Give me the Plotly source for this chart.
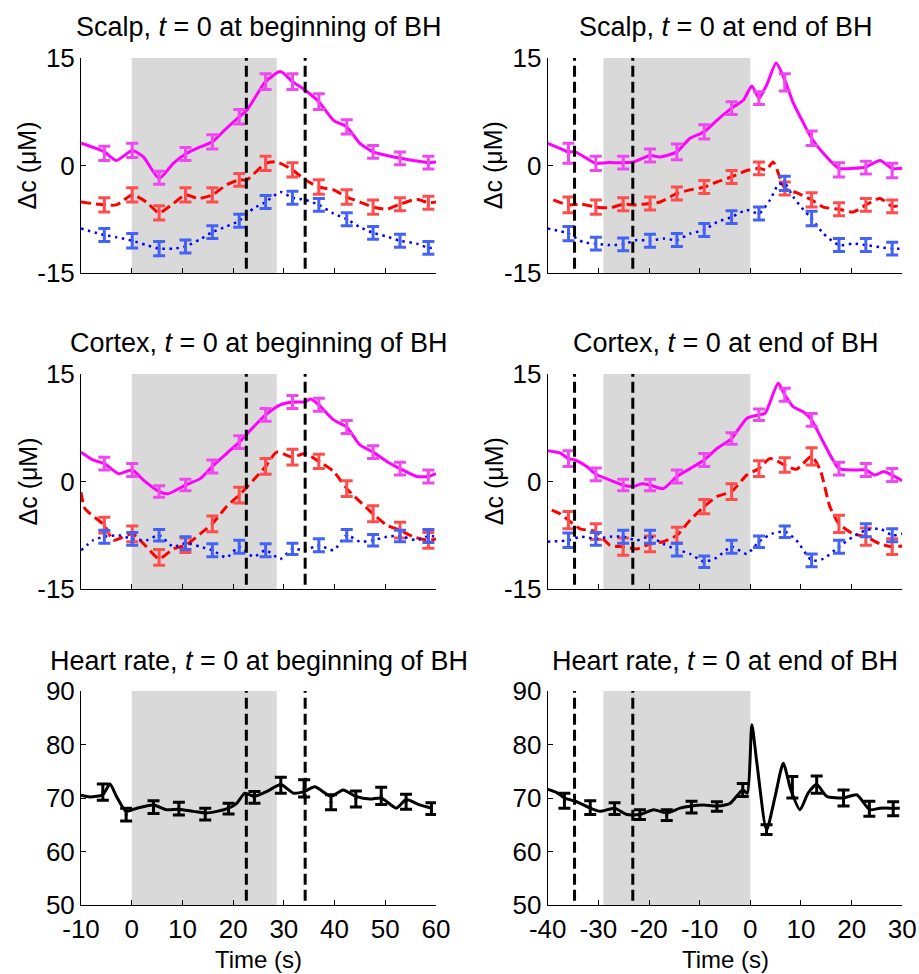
import plotly.graph_objects as go

# ---------------- data ----------------
# time axes / tick labels
x_ticks_begin = [-10, 0, 10, 20, 30, 40, 50, 60]
x_ticks_end = [-40, -30, -20, -10, 0, 10, 20, 30]
y_ticks_dc = [-15, 0, 15]
y_ticks_hr = [50, 60, 70, 80, 90]

# breath-hold shading and dashed markers
bh_begin = [0, 28.6]
bh_end = [-29.0, 0]
dash_begin = [22.6, 34.2]
dash_end = [-34.7, -23.2]

# error-bar sample times
eb_t_begin = [-5.4, 0.1, 5.4, 10.6, 15.9, 21.2, 26.4, 31.7, 36.9, 42.4, 47.6, 52.9, 58.5]
eb_t_end = [-35.9, -30.5, -25.1, -19.8, -14.5, -9.1, -3.7, 1.7, 6.8, 12.1, 17.5, 22.8, 28.0]

# ---- Scalp, t=0 at beginning ----
sb_mag_t = [-10, -5.4, -3.0, 0.1, 2.3, 5.4, 8.2, 10.6, 13.5, 15.9, 18.7, 21.2, 22.7, 24.6, 26.4, 29.3, 31.7, 34.2, 36.9, 39.8, 42.4, 45.0, 47.6, 50.3, 52.9, 55.5, 58.5, 60]
sb_mag_v = [3.1, 1.9, 0.7, 2.1, 1.2, -1.8, 0.3, 1.6, 2.6, 3.3, 5.2, 6.8, 7.7, 9.8, 11.7, 13.1, 11.7, 10.5, 8.9, 6.3, 5.4, 3.1, 1.9, 1.4, 1.0, 0.7, 0.4, 0.5]
sb_red_t = [-10, -5.4, -3.0, 0.1, 2.9, 5.4, 8.2, 10.6, 13.1, 15.9, 18.7, 21.2, 22.7, 26.4, 28.6, 31.7, 34.2, 36.9, 39.8, 42.4, 45.0, 47.6, 50.3, 52.9, 56.2, 58.5, 60]
sb_red_v = [-5.1, -5.5, -5.5, -4.1, -5.1, -6.6, -5.3, -4.1, -4.6, -4.1, -2.7, -2.0, -2.0, 0.3, 0.5, -0.6, -2.0, -3.0, -3.4, -4.4, -5.1, -5.8, -6.1, -5.4, -4.7, -5.2, -5.1]
sb_blu_t = [-10, -5.4, -3.0, 0.1, 2.9, 5.4, 8.2, 10.6, 13.5, 15.9, 18.7, 21.2, 24.0, 26.4, 29.3, 31.7, 34.2, 36.9, 39.8, 42.4, 45.0, 47.6, 50.3, 52.9, 56.2, 58.5, 60]
sb_blu_v = [-8.8, -9.7, -10.0, -10.5, -11.1, -11.6, -11.6, -11.3, -10.3, -9.3, -8.5, -7.7, -6.0, -5.1, -3.7, -4.5, -4.8, -5.5, -6.7, -7.5, -8.6, -9.4, -9.9, -10.5, -10.9, -11.5, -11.4]
sb_mag_eb = [1.7, 2.1, -1.7, 1.6, 3.3, 6.8, 11.7, 11.7, 8.9, 5.4, 1.9, 1.0, 0.4]
sb_red_eb = [-5.5, -4.1, -6.6, -4.1, -4.1, -2.0, 0.3, -0.6, -3.0, -4.4, -5.8, -5.4, -5.2]
sb_blu_eb = [-9.7, -10.5, -11.6, -11.3, -9.3, -7.7, -5.1, -4.5, -5.5, -7.5, -9.4, -10.5, -11.5]
sb_mag_err = [1.0, 1.0, 0.9, 0.9, 1.0, 1.0, 1.1, 1.1, 1.1, 1.0, 0.9, 0.9, 0.9]
sb_red_err = [1.0, 1.0, 1.0, 1.0, 1.0, 0.9, 1.0, 1.0, 1.0, 1.0, 1.0, 0.9, 0.9]
sb_blu_err = [0.9, 1.0, 1.0, 0.9, 0.9, 0.9, 0.9, 0.9, 0.9, 0.9, 0.9, 0.9, 0.9]

# ---- Scalp, t=0 at end ----
se_mag_t = [-40, -37.6, -35.9, -34.6, -32.3, -30.5, -28.4, -25.1, -23.1, -19.8, -17.8, -14.5, -11.9, -9.1, -6.6, -3.7, -1.4, 0.3, 1.7, 3.2, 5.1, 6.8, 8.5, 10.5, 12.1, 14.4, 17.5, 20.3, 22.8, 25.6, 28.0, 30]
se_mag_v = [3.1, 2.4, 1.9, 1.9, 1.0, 0.3, 0.4, 0.4, 0.5, 1.4, 1.2, 1.9, 3.8, 4.7, 6.3, 8.0, 9.1, 11.1, 9.4, 11.2, 14.3, 11.9, 8.7, 5.9, 3.8, 1.7, -0.4, -0.4, -0.2, 0.7, -0.4, -0.4]
se_red_t = [-38.9, -35.9, -33.3, -30.5, -27.7, -25.1, -23.1, -19.8, -17.8, -14.5, -11.9, -9.1, -6.6, -3.7, -0.7, 1.7, 3.2, 4.5, 6.8, 9.1, 12.1, 14.4, 17.5, 20.3, 22.8, 25.6, 28.0, 30]
se_red_v = [-4.8, -5.5, -5.4, -5.8, -5.9, -5.4, -5.5, -5.3, -5.1, -3.9, -3.4, -3.0, -2.3, -1.6, -0.7, -0.4, -0.6, 0.5, -3.2, -3.8, -4.8, -5.8, -6.1, -6.5, -5.5, -4.6, -5.7, -5.5]
se_blu_t = [-40, -35.9, -33.0, -30.5, -27.7, -25.1, -22.4, -19.8, -17.2, -14.5, -11.9, -9.1, -6.6, -3.7, -0.7, 1.7, 3.9, 5.5, 6.8, 8.5, 10.5, 12.1, 14.4, 17.5, 20.3, 22.8, 25.6, 28.0, 30]
se_blu_v = [-8.8, -9.5, -10.7, -10.9, -11.1, -11.0, -10.4, -10.5, -10.2, -10.4, -9.5, -9.0, -7.9, -7.2, -6.2, -6.7, -4.8, -2.7, -2.5, -4.4, -6.2, -7.4, -9.5, -11.1, -10.9, -11.1, -11.4, -11.6, -11.6]
se_mag_eb = [1.7, 0.3, 0.4, 1.4, 1.9, 4.7, 8.0, 9.4, 11.6, 3.8, -0.6, -0.3, -0.7]
se_red_eb = [-5.5, -5.8, -5.4, -5.3, -3.9, -3.0, -1.6, -0.4, -3.2, -4.8, -6.1, -5.5, -5.7]
se_blu_eb = [-9.5, -10.9, -11.0, -10.5, -10.4, -9.0, -7.2, -6.7, -2.5, -7.4, -11.1, -11.1, -11.6]
se_mag_err = [1.4, 1.0, 0.9, 0.9, 1.1, 1.0, 0.9, 0.9, 1.2, 1.0, 1.0, 0.9, 1.0]
se_red_err = [1.1, 1.0, 0.9, 0.9, 0.9, 0.9, 0.9, 0.9, 0.9, 1.0, 0.9, 0.9, 0.9]
se_blu_err = [1.0, 0.9, 0.9, 0.9, 0.9, 0.9, 0.9, 0.9, 1.0, 1.0, 0.9, 0.9, 0.9]

# ---- Cortex, t=0 at beginning ----
cb_mag_t = [-10, -7.6, -5.4, -2.6, 0.1, 2.3, 5.4, 7.2, 10.6, 13.5, 15.9, 18.7, 21.2, 24.0, 26.4, 29.3, 31.7, 34.2, 35.2, 36.9, 39.8, 42.4, 45.0, 47.6, 50.3, 52.9, 56.2, 58.5, 60]
cb_mag_v = [4.1, 3.0, 2.5, 1.1, 1.6, 0.2, -1.4, -1.7, -0.5, 0.4, 2.1, 3.9, 5.5, 7.6, 9.3, 10.7, 11.1, 11.1, 11.5, 10.7, 8.6, 7.6, 5.1, 4.1, 2.8, 1.8, 0.7, 0.7, 1.1]
cb_red_t = [-10, -9.2, -5.4, -3.6, 0.1, 2.9, 5.4, 8.2, 10.6, 13.5, 15.9, 18.7, 21.2, 24.0, 26.4, 28.6, 31.7, 34.2, 36.9, 39.8, 42.4, 45.0, 47.6, 50.3, 52.9, 55.5, 58.5, 60]
cb_red_v = [-1.5, -3.8, -6.1, -8.2, -7.3, -9.1, -10.8, -9.4, -8.9, -7.3, -5.9, -3.5, -1.9, 0.2, 2.1, 4.1, 3.4, 3.9, 2.8, 1.4, -1.0, -2.8, -4.5, -6.1, -6.8, -7.7, -8.2, -8.0]
cb_blu_t = [-10, -7.6, -5.4, -2.6, 0.1, 2.9, 5.4, 8.2, 10.6, 13.5, 15.9, 18.7, 21.2, 24.0, 26.4, 29.3, 31.7, 34.2, 36.9, 39.8, 42.4, 45.0, 47.6, 50.3, 52.9, 56.2, 58.5, 60]
cb_blu_v = [-9.6, -8.2, -7.7, -7.5, -8.0, -8.2, -7.5, -9.1, -8.6, -9.1, -9.6, -10.6, -9.1, -10.5, -9.6, -10.8, -9.4, -9.6, -8.9, -9.6, -7.5, -8.4, -8.2, -7.7, -7.6, -8.2, -7.6, -7.7]
cb_mag_eb = [2.5, 1.6, -1.4, -0.5, 2.1, 5.5, 9.3, 11.1, 10.7, 7.6, 4.1, 1.8, 0.7]
cb_red_eb = [-6.1, -7.3, -10.6, -8.9, -5.9, -1.9, 2.1, 3.4, 2.8, -1.0, -4.5, -6.8, -8.2]
cb_blu_eb = [-7.7, -8.0, -7.5, -8.6, -9.6, -9.1, -9.6, -9.4, -8.9, -7.5, -8.2, -7.6, -7.6]
cb_mag_err = [0.9, 0.9, 0.8, 0.8, 0.9, 0.9, 0.9, 0.9, 0.9, 0.9, 0.9, 0.9, 0.9]
cb_red_err = [1.1, 1.1, 1.1, 1.0, 1.1, 1.1, 1.1, 1.1, 1.0, 1.1, 1.1, 1.1, 1.1]
cb_blu_err = [0.9, 0.9, 0.8, 0.9, 0.9, 0.9, 0.9, 0.8, 0.9, 0.8, 0.8, 0.8, 0.9]

# ---- Cortex, t=0 at end ----
ce_mag_t = [-40, -37.6, -35.9, -34.6, -32.3, -30.5, -27.7, -25.1, -23.1, -21.4, -19.8, -17.2, -14.5, -11.9, -9.1, -6.6, -3.7, -0.7, 1.7, 2.9, 5.5, 6.8, 8.5, 10.5, 12.1, 14.4, 17.5, 20.3, 22.8, 24.6, 26.3, 28.0, 30]
ce_mag_v = [4.3, 4.0, 3.2, 3.0, 2.1, 1.0, 0.2, -0.5, -0.7, -0.3, -0.5, -1.0, 0.7, 1.8, 3.0, 4.6, 6.0, 8.8, 9.3, 9.5, 13.7, 12.1, 10.4, 9.7, 8.6, 5.5, 1.8, 1.6, 1.6, 0.9, 1.4, 0.9, 0.1]
ce_red_t = [-39.2, -37.6, -35.9, -33.6, -30.5, -27.7, -25.1, -22.4, -19.8, -17.2, -14.5, -11.9, -9.1, -6.6, -3.7, -0.7, 1.7, 3.9, 6.8, 9.1, 12.1, 13.8, 15.7, 17.5, 20.3, 22.8, 25.6, 28.0, 30]
ce_red_v = [-4.0, -4.5, -5.4, -6.6, -7.0, -8.9, -9.1, -9.4, -8.7, -8.4, -7.5, -5.4, -3.5, -2.1, -1.4, 0.9, 1.8, 3.2, 2.3, 1.7, 3.5, 1.6, -3.5, -5.9, -7.3, -7.7, -8.7, -9.1, -9.0]
ce_blu_t = [-40, -35.9, -33.3, -30.5, -27.7, -25.1, -22.4, -19.8, -17.2, -14.5, -11.9, -9.1, -6.6, -3.7, -0.7, 1.7, 4.2, 6.8, 9.1, 12.1, 14.4, 17.5, 20.3, 22.8, 25.6, 28.0, 30]
ce_blu_v = [-8.4, -8.2, -7.7, -8.0, -7.7, -7.7, -8.2, -7.7, -8.7, -9.5, -10.1, -11.2, -10.6, -9.1, -10.1, -8.4, -7.3, -7.0, -8.2, -11.0, -10.8, -9.1, -7.7, -6.8, -6.6, -7.5, -7.3]
ce_mag_eb = [3.2, 1.0, -0.5, -0.5, 0.7, 3.0, 6.0, 9.3, 12.1, 8.6, 1.8, 1.6, 0.9]
ce_red_eb = [-5.4, -7.0, -9.1, -8.7, -7.5, -3.5, -1.4, 1.8, 2.3, 3.5, -5.9, -7.7, -9.1]
ce_blu_eb = [-8.2, -8.0, -7.7, -7.7, -9.5, -11.2, -9.1, -8.4, -7.0, -11.0, -9.1, -6.8, -7.5]
ce_mag_err = [1.1, 0.9, 0.8, 0.8, 0.9, 0.9, 0.8, 0.8, 0.9, 0.9, 0.9, 0.9, 0.9]
ce_red_err = [1.2, 1.1, 1.2, 1.1, 1.1, 1.0, 1.1, 1.1, 1.0, 1.2, 1.2, 1.2, 1.1]
ce_blu_err = [1.0, 0.9, 0.9, 0.9, 0.9, 0.8, 0.9, 0.8, 0.8, 0.9, 0.9, 0.9, 0.9]

# ---- Heart rate ----
hb_t = [-10, -8.2, -5.7, -4.3, -3.0, -1.1, 1.0, 4.3, 6.9, 9.3, 12.2, 14.5, 16.8, 19.1, 20.7, 22.3, 24.2, 26.6, 29.4, 31.9, 34.0, 36.1, 39.3, 41.7, 44.2, 47.0, 49.2, 52.2, 54.1, 56.8, 59.1]
hb_v = [70.5, 70.2, 70.6, 72.6, 70.3, 67.5, 68.1, 68.7, 67.8, 67.9, 67.5, 67.2, 67.5, 68.1, 69.0, 70.9, 70.3, 71.2, 72.5, 70.9, 71.2, 72.1, 70.3, 71.5, 70.3, 69.8, 70.0, 68.1, 69.7, 68.7, 68.1]
hb_eb_t = [-5.7, -1.1, 4.3, 9.3, 14.5, 19.1, 24.2, 29.4, 34.0, 39.3, 44.2, 49.2, 54.1, 59.1]
hb_eb_v = [71.1, 66.9, 68.3, 68.0, 67.0, 68.0, 70.1, 72.4, 71.8, 69.2, 69.8, 70.4, 69.3, 68.0]
hb_eb_err = [1.5, 1.2, 1.2, 1.2, 1.1, 1.0, 1.1, 1.5, 1.6, 1.4, 1.5, 1.6, 1.4, 1.1]

he_t = [-40, -38.2, -36.7, -34.3, -31.6, -29.7, -26.8, -24.4, -21.8, -19.1, -16.5, -13.9, -11.6, -9.3, -6.6, -4.0, -1.5, -0.6, 0.3, 1.3, 3.2, 4.9, 6.5, 8.0, 9.8, 11.4, 13.1, 15.1, 18.4, 21.0, 23.6, 25.6, 28.2, 29.5]
he_v = [71.6, 71.0, 70.0, 69.3, 68.1, 67.5, 68.1, 66.9, 66.9, 67.8, 67.2, 68.1, 68.5, 68.7, 68.5, 69.0, 71.5, 70.9, 83.7, 76.5, 64.0, 70.3, 76.5, 71.5, 67.8, 70.9, 72.5, 70.3, 70.0, 70.6, 67.8, 68.1, 68.1, 68.1]
he_eb_t = [-36.7, -31.6, -26.8, -21.8, -16.5, -11.6, -6.6, -1.5, 3.2, 8.3, 13.1, 18.4, 23.5, 28.2]
he_eb_v = [69.5, 68.2, 68.0, 66.9, 66.8, 68.3, 68.4, 71.5, 64.1, 72.0, 72.5, 70.0, 68.0, 68.0]
he_eb_err = [1.4, 1.3, 1.1, 0.9, 1.0, 1.1, 0.9, 1.2, 0.9, 2.0, 1.6, 1.5, 1.4, 1.3]

# ---------------- styling ----------------
FONT = "Liberation Sans, Arial, sans-serif"
MAG, MAG_E = "#FF00FF", "#F048F0"
RED, RED_E = "#FF0000", "#FF4D4D"
BLU, BLU_E = "#0000FF", "#4463F5"
TICK_SIZE = 26
TITLE_SIZE = 27

W, H = 919, 974
x_dom_px = [(81, 436), (547.7, 902.3)]
y_dom_px = [(58, 273), (374, 589), (691, 905)]

fig = go.Figure()

def axname(i):
    return "" if i == 1 else str(i)

panels = [(r, c) for r in range(3) for c in range(2)]

def add_line(idx, t, v, color, dash, width, smooth=0.6):
    fig.add_trace(go.Scatter(x=t, y=v, mode="lines", xaxis="x" + axname(idx), yaxis="y" + axname(idx),
                             line=dict(color=color, width=width, dash=dash, shape="spline", smoothing=smooth),
                             showlegend=False, hoverinfo="skip"))

def add_eb(idx, t, v, err, color):
    fig.add_trace(go.Scatter(x=t, y=v, mode="markers", xaxis="x" + axname(idx), yaxis="y" + axname(idx),
                             marker=dict(size=3, color=color),
                             error_y=dict(type="data", array=err, color=color, thickness=3, width=6),
                             showlegend=False, hoverinfo="skip"))

DASH_R = "10px,5px"
DOT_B = "2.5px,4.5px"

series = {
    1: [(sb_red_t, sb_red_v, eb_t_begin, sb_red_eb, sb_red_err, RED, RED_E, DASH_R, 3),
        (sb_blu_t, sb_blu_v, eb_t_begin, sb_blu_eb, sb_blu_err, BLU, BLU_E, DOT_B, 2.5),
        (sb_mag_t, sb_mag_v, eb_t_begin, sb_mag_eb, sb_mag_err, MAG, MAG_E, "solid", 3)],
    2: [(se_red_t, se_red_v, eb_t_end, se_red_eb, se_red_err, RED, RED_E, DASH_R, 3),
        (se_blu_t, se_blu_v, eb_t_end, se_blu_eb, se_blu_err, BLU, BLU_E, DOT_B, 2.5),
        (se_mag_t, se_mag_v, eb_t_end, se_mag_eb, se_mag_err, MAG, MAG_E, "solid", 3)],
    3: [(cb_red_t, cb_red_v, eb_t_begin, cb_red_eb, cb_red_err, RED, RED_E, DASH_R, 3),
        (cb_blu_t, cb_blu_v, eb_t_begin, cb_blu_eb, cb_blu_err, BLU, BLU_E, DOT_B, 2.5),
        (cb_mag_t, cb_mag_v, eb_t_begin, cb_mag_eb, cb_mag_err, MAG, MAG_E, "solid", 3)],
    4: [(ce_red_t, ce_red_v, eb_t_end, ce_red_eb, ce_red_err, RED, RED_E, DASH_R, 3),
        (ce_blu_t, ce_blu_v, eb_t_end, ce_blu_eb, ce_blu_err, BLU, BLU_E, DOT_B, 2.5),
        (ce_mag_t, ce_mag_v, eb_t_end, ce_mag_eb, ce_mag_err, MAG, MAG_E, "solid", 3)],
    5: [(hb_t, hb_v, hb_eb_t, hb_eb_v, hb_eb_err, "#000000", "#000000", "solid", 3)],
    6: [(he_t, he_v, he_eb_t, he_eb_v, he_eb_err, "#000000", "#000000", "solid", 3)],
}

for idx in range(1, 7):
    for (t, v, et, ev, ee, lc, ec, dash, w) in series[idx]:
        add_line(idx, t, v, lc, dash, w)
        add_eb(idx, et, ev, ee, ec)

shapes = []
annotations = []
titles = ["Scalp, <i>t</i> = 0 at beginning of BH", "Scalp, <i>t</i> = 0 at end of BH",
          "Cortex, <i>t</i> = 0 at beginning of BH", "Cortex, <i>t</i> = 0 at end of BH",
          "Heart rate, <i>t</i> = 0 at beginning of BH", "Heart rate, <i>t</i> = 0 at end of BH"]
title_y_px = [27, 343, 661]

layout = dict(width=W, height=H, margin=dict(l=0, r=0, t=0, b=0, autoexpand=False),
              paper_bgcolor="white", plot_bgcolor="white",
              font=dict(family=FONT, size=TICK_SIZE, color="black"), showlegend=False)

for idx, (r, c) in enumerate(panels, start=1):
    x0, x1 = x_dom_px[c]
    y0, y1 = y_dom_px[r]
    xd = [x0 / W, x1 / W]
    yd = [1 - y1 / H, 1 - y0 / H]
    n = axname(idx)
    xt = x_ticks_begin if c == 0 else x_ticks_end
    yt = y_ticks_dc if r < 2 else y_ticks_hr
    layout["xaxis" + n] = dict(domain=xd, anchor="y" + n, range=[xt[0], xt[-1]], automargin=False,
                               tickmode="array", tickvals=xt, ticktext=[str(v) for v in xt],
                               showticklabels=(r == 2), ticks="inside", ticklen=5, tickwidth=1,
                               tickcolor="black", showline=True, linecolor="black", linewidth=1,
                               showgrid=False, zeroline=False, tickfont=dict(size=TICK_SIZE),
                               ticklabelstandoff=1)
    layout["yaxis" + n] = dict(domain=yd, anchor="x" + n, range=[yt[0], yt[-1]], automargin=False,
                               tickmode="array", tickvals=yt, ticktext=[str(v) for v in yt],
                               ticks="inside", ticklen=5, tickwidth=1, tickcolor="black",
                               showline=True, linecolor="black", linewidth=1,
                               showgrid=False, zeroline=False, tickfont=dict(size=TICK_SIZE))
    bh = bh_begin if c == 0 else bh_end
    dl = dash_begin if c == 0 else dash_end
    shapes.append(dict(type="rect", xref="x" + n, yref="y" + n + " domain", x0=bh[0], x1=bh[1], y0=0, y1=1,
                       fillcolor="#D9D9D9", line=dict(width=0), layer="below"))
    for d in dl:
        shapes.append(dict(type="line", xref="x" + n, yref="y" + n + " domain", x0=d, x1=d, y0=0.02, y1=1,
                           line=dict(color="black", width=3, dash="11px,5px"), layer="above"))
    annotations.append(dict(text=titles[idx - 1], xref="paper", yref="paper",
                            x=(x0 + x1) / 2 / W, y=1 - title_y_px[r] / H, xanchor="center", yanchor="middle",
                            showarrow=False, font=dict(size=TITLE_SIZE, family=FONT, color="black")))
    if r < 2:
        annotations.append(dict(text="\u0394c (\u03bcM)", xref="paper", yref="paper",
                                x=(x0 - 54) / W, y=1 - (y0 + y1) / 2 / H, xanchor="center", yanchor="middle",
                                textangle=-90, showarrow=False, font=dict(size=25, family=FONT, color="black")))
    else:
        annotations.append(dict(text="Time (s)", xref="paper", yref="paper",
                                x=(x0 + x1) / 2 / W, y=0, xanchor="center", yanchor="bottom",
                                borderpad=0, showarrow=False, font=dict(size=24, family=FONT, color="black")))

layout["shapes"] = shapes
layout["annotations"] = annotations
fig.update_layout(**layout)
fig.write_html("out.html", config={"displayModeBar": False, "staticPlot": True},
               post_script="document.body.style.margin='0';document.body.style.overflow='hidden';")
